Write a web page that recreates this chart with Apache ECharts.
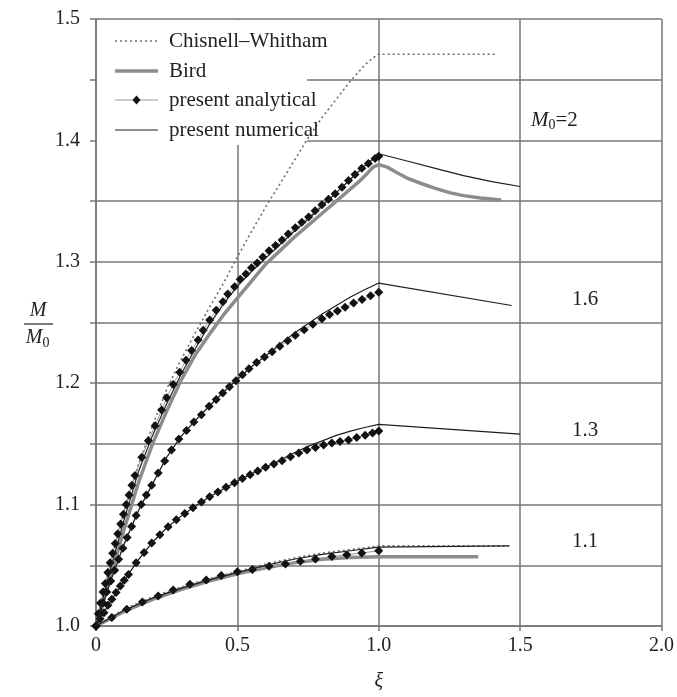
<!DOCTYPE html>
<html><head><meta charset="utf-8">
<script src="https://cdn.jsdelivr.net/npm/echarts@6/dist/echarts.min.js"></script>
<style>html,body{margin:0;padding:0;background:#fff}#c{width:677px;height:697px}</style>
</head><body><div id="c"></div>
<script>
// ---- data (xi, M/M0) ----
const chisnellM2 = [[0,1],[0.05,1.05],[0.1,1.095],[0.15,1.133],[0.2,1.165],[0.25,1.195],[0.3,1.219],[0.35,1.241],[0.4,1.262],[0.45,1.282],[0.5,1.304],[0.55,1.325],[0.6,1.345],[0.65,1.364],[0.7,1.383],[0.75,1.402],[0.8,1.419],[0.85,1.434],[0.9,1.449],[0.95,1.462],[0.98,1.468],[1.0,1.471],[1.42,1.471]];
const chisnellM11 = [[0,1],[0.1,1.014],[0.2,1.024],[0.3,1.032],[0.4,1.039],[0.5,1.045],[0.6,1.051],[0.7,1.056],[0.8,1.06],[0.9,1.063],[1.0,1.066],[1.465,1.066]];

const birdM2 = [[0,1],[0.05,1.04],[0.1,1.08],[0.15,1.118],[0.2,1.15],[0.25,1.177],[0.3,1.202],[0.35,1.223],[0.4,1.24],[0.45,1.256],[0.5,1.27],[0.55,1.284],[0.6,1.298],[0.65,1.309],[0.7,1.32],[0.75,1.33],[0.8,1.34],[0.85,1.35],[0.9,1.36],[0.93,1.366],[0.96,1.373],[0.98,1.378],[1.0,1.38],[1.03,1.378],[1.06,1.374],[1.1,1.369],[1.15,1.3645],[1.2,1.3605],[1.25,1.357],[1.3,1.3545],[1.36,1.3525],[1.433,1.351]];
const birdM11 = [[0,1],[0.1,1.012],[0.2,1.022],[0.3,1.03],[0.4,1.037],[0.5,1.043],[0.6,1.048],[0.7,1.052],[0.8,1.055],[0.9,1.0565],[1.0,1.057],[1.352,1.057]];

const analyticM2 = [[0,1],[0.008,1.01],[0.016,1.019],[0.025,1.028],[0.033,1.035],[0.042,1.044],[0.05,1.052],[0.059,1.06],[0.068,1.068],[0.077,1.076],[0.087,1.084],[0.097,1.092],[0.107,1.1],[0.117,1.108],[0.127,1.116],[0.138,1.124],[0.162,1.139],[0.185,1.1525],[0.209,1.165],[0.232,1.178],[0.25,1.188],[0.273,1.199],[0.296,1.209],[0.318,1.219],[0.338,1.227],[0.361,1.2355],[0.379,1.2436],[0.402,1.252],[0.425,1.26],[0.449,1.267],[0.466,1.2735],[0.49,1.2795],[0.51,1.2857],[0.53,1.29],[0.55,1.295],[0.57,1.299],[0.59,1.304],[0.612,1.309],[0.635,1.3135],[0.658,1.318],[0.68,1.323],[0.705,1.328],[0.728,1.3325],[0.752,1.337],[0.775,1.342],[0.799,1.347],[0.822,1.3515],[0.846,1.356],[0.87,1.3615],[0.893,1.367],[0.916,1.372],[0.94,1.377],[0.963,1.381],[0.987,1.385],[1.0,1.387]];
const analyticM16 = [[0,1],[0.012,1.01],[0.025,1.019],[0.038,1.028],[0.052,1.037],[0.066,1.046],[0.08,1.055],[0.095,1.064],[0.11,1.073],[0.126,1.082],[0.142,1.091],[0.16,1.1],[0.178,1.108],[0.197,1.116],[0.22,1.126],[0.243,1.136],[0.267,1.145],[0.293,1.154],[0.32,1.161],[0.346,1.168],[0.373,1.174],[0.4,1.181],[0.425,1.1865],[0.448,1.192],[0.472,1.197],[0.495,1.202],[0.518,1.207],[0.541,1.212],[0.568,1.217],[0.596,1.2215],[0.623,1.2259],[0.65,1.2305],[0.678,1.235],[0.705,1.2396],[0.736,1.244],[0.767,1.2485],[0.799,1.2531],[0.826,1.2565],[0.854,1.2595],[0.881,1.2626],[0.911,1.266],[0.941,1.269],[0.971,1.272],[1.0,1.275]];
const analyticM13 = [[0,1],[0.014,1.006],[0.028,1.011],[0.042,1.017],[0.056,1.022],[0.071,1.0275],[0.086,1.033],[0.1,1.0377],[0.115,1.0424],[0.142,1.052],[0.17,1.0605],[0.197,1.0683],[0.226,1.0752],[0.255,1.0818],[0.284,1.0875],[0.314,1.0927],[0.343,1.0975],[0.373,1.1022],[0.402,1.1064],[0.431,1.1104],[0.46,1.1142],[0.49,1.118],[0.518,1.1215],[0.545,1.1245],[0.572,1.1277],[0.6,1.1307],[0.629,1.1335],[0.658,1.1362],[0.688,1.1394],[0.717,1.1425],[0.746,1.1449],[0.776,1.1471],[0.805,1.149],[0.834,1.1507],[0.863,1.152],[0.893,1.1533],[0.922,1.1553],[0.952,1.1572],[0.978,1.159],[1.0,1.1607]];
const analyticM11 = [[0,1],[0.056,1.0071],[0.109,1.0139],[0.164,1.0198],[0.22,1.0247],[0.273,1.0296],[0.332,1.0343],[0.39,1.0378],[0.443,1.0416],[0.5,1.0446],[0.553,1.0465],[0.612,1.0492],[0.67,1.0511],[0.723,1.0533],[0.776,1.0552],[0.834,1.0573],[0.887,1.0587],[0.94,1.0601],[1.0,1.062]];

const numericM2 = [[0,1],[0.05,1.046],[0.1,1.088],[0.15,1.127],[0.2,1.157],[0.25,1.183],[0.3,1.207],[0.35,1.228],[0.4,1.248],[0.45,1.265],[0.5,1.28],[0.55,1.292],[0.6,1.303],[0.65,1.314],[0.7,1.325],[0.75,1.335],[0.8,1.346],[0.85,1.357],[0.9,1.368],[0.95,1.379],[1.0,1.389],[1.1,1.383],[1.2,1.377],[1.3,1.371],[1.4,1.366],[1.5,1.362]];
const numericM16 = [[0,1],[0.05,1.036],[0.1,1.068],[0.15,1.095],[0.2,1.117],[0.25,1.139],[0.3,1.156],[0.35,1.169],[0.4,1.181],[0.45,1.1925],[0.5,1.203],[0.55,1.2135],[0.6,1.2225],[0.65,1.232],[0.7,1.241],[0.75,1.249],[0.8,1.257],[0.85,1.264],[0.9,1.271],[0.95,1.277],[1.0,1.2825],[1.47,1.264]];
const numericM13 = [[0,1],[0.05,1.02],[0.1,1.0377],[0.15,1.0545],[0.2,1.069],[0.25,1.0808],[0.3,1.0903],[0.35,1.0987],[0.4,1.1061],[0.45,1.1129],[0.5,1.1193],[0.55,1.1254],[0.6,1.131],[0.65,1.1365],[0.7,1.1425],[0.75,1.148],[0.8,1.1525],[0.85,1.157],[0.9,1.1605],[0.95,1.1635],[1.0,1.1661],[1.5,1.158]];
const numericM11 = [[0,1],[0.1,1.013],[0.2,1.023],[0.3,1.031],[0.4,1.038],[0.5,1.044],[0.6,1.05],[0.7,1.055],[0.8,1.059],[0.9,1.062],[1.0,1.065],[1.46,1.066]];

const xTicks = [0, 0.5, 1.0, 1.5, 2.0];
const yTicks = [1.0, 1.1, 1.2, 1.3, 1.4, 1.5];
const curveLabels = ['1.6', '1.3', '1.1'];
const legendNames = ['Chisnell–Whitham', 'Bird', 'present analytical', 'present numerical'];

// ---- chart ----
const FONT = "'Liberation Serif','Times New Roman',serif";
const GRID = '#767676';
const chart = echarts.init(document.getElementById('c'), null, {renderer: 'canvas'});

const cwStyle = {color: '#6d6d6d', width: 1.6, type: [2, 3]};
const birdStyle = {color: '#8c8c8c', width: 3.5};
const anLine = {color: '#9a9a9a', width: 1};
const numStyle = {color: '#1e1e1e', width: 1.2};

function lineSeries(name, data, style, z) {
  return {type: 'line', name, data, symbol: 'none', showSymbol: false, lineStyle: style,
    itemStyle: {color: style.color}, z, silent: true, animation: false};
}
function anSeries(data) {
  return {type: 'line', name: legendNames[2], data, symbol: 'diamond', symbolSize: 9, showSymbol: true,
    lineStyle: anLine, itemStyle: {color: '#111'}, z: 3, silent: true, animation: false};
}

const series = [
  lineSeries(legendNames[0], chisnellM2, cwStyle, 2),
  lineSeries(legendNames[0], chisnellM11, cwStyle, 2),
  lineSeries(legendNames[1], birdM2, birdStyle, 2),
  lineSeries(legendNames[1], birdM11, birdStyle, 2),
  anSeries(analyticM2), anSeries(analyticM16), anSeries(analyticM13), anSeries(analyticM11),
  lineSeries(legendNames[3], numericM2, numStyle, 4),
  lineSeries(legendNames[3], numericM16, numStyle, 4),
  lineSeries(legendNames[3], numericM13, numStyle, 4),
  lineSeries(legendNames[3], numericM11, numStyle, 4)
];

// manual legend (white box hides grid lines behind it)
const legRowY = [41, 71, 100, 130];
const legStyles = [
  {stroke: '#6d6d6d', lineWidth: 1.6, lineDash: [2, 3]},
  {stroke: '#8c8c8c', lineWidth: 3.5},
  {stroke: '#9a9a9a', lineWidth: 1},
  {stroke: '#1e1e1e', lineWidth: 1.2}
];
const legendGraphics = [{type: 'rect', z: 1, silent: true, shape: {x: 97, y: 20, width: 210, height: 125}, style: {fill: '#fff'}}];
legendNames.forEach((n, i) => {
  legendGraphics.push({type: 'line', z: 6, silent: true, shape: {x1: 115, y1: legRowY[i], x2: 158, y2: legRowY[i]}, style: legStyles[i]});
  legendGraphics.push({type: 'text', z: 6, silent: true, x: 169, y: legRowY[i],
    style: {text: n, font: '21px ' + FONT, fill: '#222', verticalAlign: 'middle'}});
});
legendGraphics.push({type: 'polygon', z: 7, silent: true,
  shape: {points: [[136.5, legRowY[2] - 4.5], [140.5, legRowY[2]], [136.5, legRowY[2] + 4.5], [132.5, legRowY[2]]]},
  style: {fill: '#111'}});

chart.setOption({
  animation: false,
  backgroundColor: '#fff',
  grid: {left: 96, right: 12, top: 19, bottom: 65, containLabel: false},
  xAxis: {
    type: 'value', min: xTicks[0], max: xTicks[xTicks.length - 1], interval: 0.5,
    axisLine: {show: true, lineStyle: {color: GRID, width: 1.5}},
    axisTick: {show: true, length: 5, lineStyle: {color: GRID, width: 1.5}},
    splitLine: {show: true, lineStyle: {color: GRID, width: 1.5}},
    axisLabel: {fontFamily: FONT, fontSize: 20, color: '#222', margin: 10,
      formatter: v => (Math.abs(v) < 1e-9 ? '0' : v.toFixed(1))},
    name: 'ξ', nameLocation: 'middle', nameGap: 46,
    nameTextStyle: {fontFamily: FONT, fontSize: 20, fontStyle: 'italic', color: '#222'}
  },
  yAxis: {
    type: 'value', min: yTicks[0], max: yTicks[yTicks.length - 1], interval: 0.05,
    axisLine: {show: true, lineStyle: {color: GRID, width: 1.5}},
    axisTick: {show: true, length: 6, lineStyle: {color: GRID, width: 1.5}},
    splitLine: {show: true, lineStyle: {color: GRID, width: 1.5}},
    axisLabel: {fontFamily: FONT, fontSize: 20, color: '#222', margin: 16,
      formatter: v => (Math.round(v * 100) % 10 === 0 ? v.toFixed(1) : '')}
  },
  graphic: legendGraphics.concat([
    {type: 'text', z: 5, left: 531, top: 110, silent: true,
      style: {text: '{i|M}{s|0}{n|=2}', font: '20px ' + FONT, fill: '#222',
        rich: {i: {fontFamily: FONT, fontSize: 21, fontStyle: 'italic', fill: '#222'},
               s: {fontFamily: FONT, fontSize: 14, fill: '#222', padding: [10, 0, 0, 0]},
               n: {fontFamily: FONT, fontSize: 21, fill: '#222'}}}},
    {type: 'text', z: 5, x: 585, y: 299, silent: true,
      style: {text: curveLabels[0], font: '21px ' + FONT, fill: '#222', align: 'center', verticalAlign: 'middle'}},
    {type: 'text', z: 5, x: 585, y: 430, silent: true,
      style: {text: curveLabels[1], font: '21px ' + FONT, fill: '#222', align: 'center', verticalAlign: 'middle'}},
    {type: 'text', z: 5, x: 585, y: 541, silent: true,
      style: {text: curveLabels[2], font: '21px ' + FONT, fill: '#222', align: 'center', verticalAlign: 'middle'}},
    {type: 'text', z: 5, x: 38, y: 311, silent: true,
      style: {text: 'M', font: 'italic 20px ' + FONT, fill: '#222', align: 'center', verticalAlign: 'middle'}},
    {type: 'line', z: 5, silent: true, shape: {x1: 24, y1: 324, x2: 53, y2: 324}, style: {stroke: '#222', lineWidth: 1.2}},
    {type: 'text', z: 5, x: 34, y: 338, silent: true,
      style: {text: 'M', font: 'italic 20px ' + FONT, fill: '#222', align: 'center', verticalAlign: 'middle'}},
    {type: 'text', z: 5, x: 46, y: 343, silent: true,
      style: {text: '0', font: '14px ' + FONT, fill: '#222', align: 'center', verticalAlign: 'middle'}}
  ]),
  series
});
</script></body></html>
